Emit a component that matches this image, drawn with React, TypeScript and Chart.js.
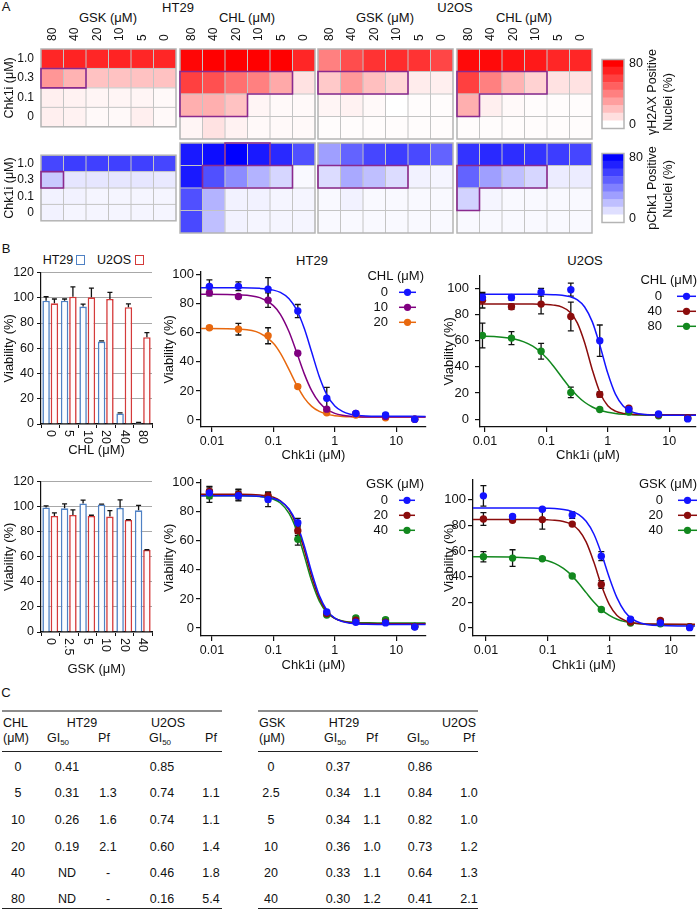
import React, { useEffect, useRef } from 'react';
import { Chart, registerables } from 'chart.js';

Chart.register(...registerables);

const FONT = '"Liberation Sans", Arial, Helvetica, sans-serif';
Chart.defaults.font.family = FONT;
Chart.defaults.color = '#000';

// ---------------- Panel A : heatmaps ----------------
const heatCols = ['80', '40', '20', '10', '5', '0'];
const heatRows = ['1.0', '0.3', '0.1', '0'];

// values in % positive nuclei, rows top->bottom (Chk1i 1.0, 0.3, 0.1, 0), cols 80..0
const ht29GskH2ax = [
  [68, 69, 68, 69, 68, 68],
  [33, 24, 19, 19, 19, 19],
  [5, 4, 3, 3, 3, 2],
  [5, 4, 2, 2, 5, 2],
];
const ht29ChlH2ax = [
  [78, 80, 80, 80, 80, 68],
  [60, 55, 45, 40, 27, 9],
  [25, 25, 19, 3, 2, 2],
  [3, 9, 4, 2, 2, 2],
];
const u2osGskH2ax = [
  [40, 56, 64, 66, 64, 58],
  [17, 32, 20, 13, 6, 5],
  [3, 4, 2, 0, 1, 1],
  [1, 1, 1, 1, 1, 1],
];
const u2osChlH2ax = [
  [77, 77, 74, 72, 68, 68],
  [60, 40, 24, 14, 9, 9],
  [25, 5, 2, 1, 1, 1],
  [1, 1, 1, 1, 1, 1],
];
const ht29GskPchk1 = [
  [58, 61, 60, 60, 60, 58],
  [17, 8, 8, 8, 8, 7],
  [4, 4, 3, 3, 3, 3],
  [4, 3, 3, 3, 3, 3],
];
const ht29ChlPchk1 = [
  [72, 76, 80, 72, 67, 55],
  [72, 55, 36, 24, 13, 2],
  [55, 24, 4, 4, 3, 3],
  [57, 20, 4, 3, 3, 3],
];
const u2osGskPchk1 = [
  [30, 49, 58, 61, 57, 49],
  [11, 27, 20, 11, 4, 3],
  [2, 4, 2, 2, 2, 2],
  [2, 2, 2, 2, 2, 2],
];
const u2osChlPchk1 = [
  [64, 67, 66, 64, 61, 58],
  [49, 30, 20, 13, 6, 6],
  [14, 3, 2, 2, 2, 2],
  [2, 2, 2, 2, 2, 2],
];

// significance outlines (region id per cell, 0 = none)
const ht29GskH2axSig = [[0,0,0,0,0,0],[1,1,0,0,0,0],[0,0,0,0,0,0],[0,0,0,0,0,0]];
const ht29ChlH2axSig = [[0,0,0,0,0,0],[1,1,1,1,1,0],[1,1,1,0,0,0],[0,0,0,0,0,0]];
const u2osGskH2axSig = [[0,0,0,0,0,0],[1,1,1,1,0,0],[0,0,0,0,0,0],[0,0,0,0,0,0]];
const u2osChlH2axSig = [[0,0,0,0,0,0],[1,1,1,1,0,0],[1,0,0,0,0,0],[0,0,0,0,0,0]];
const ht29GskPchk1Sig = [[0,0,0,0,0,0],[1,0,0,0,0,0],[0,0,0,0,0,0],[0,0,0,0,0,0]];
const ht29ChlPchk1Sig = [[0,0,2,2,0,0],[0,1,1,1,1,0],[0,0,0,0,0,0],[0,0,0,0,0,0]];
const u2osGskPchk1Sig = [[0,0,0,0,0,0],[1,1,1,1,0,0],[0,0,0,0,0,0],[0,0,0,0,0,0]];
const u2osChlPchk1Sig = [[0,0,0,0,0,0],[1,1,1,1,0,0],[1,0,0,0,0,0],[0,0,0,0,0,0]];

const colorbarSteps = [0, 10, 20, 30, 40, 50, 60, 70, 80];
const colorbarTicks = [0, 80];

// ---------------- Panel B : bars ----------------
const chlLabels = ['0', '5', '10', '20', '40', '80'];
const chlHt29 = [97.7, 97.7, 93, 65.3, 8.3, 1];
const chlHt29Err = [3.1, 1.3, 2, 0.5, 0.5, 0.3];
const chlU2os = [95.6, 100.8, 100.3, 99, 92.5, 68.7];
const chlU2osErr = [3.4, 7.8, 7.3, 5.2, 2.6, 3.6];

const gskLabels = ['0', '2.5', '5', '10', '20', '40'];
const gskHt29 = [99.3, 98.6, 102.5, 101.7, 99, 97];
const gskHt29Err = [1.3, 3.5, 2.6, 0.3, 6.3, 4];
const gskU2os = [92.5, 93.3, 92.5, 92, 89.4, 65.4];
const gskU2osErr = [2.5, 4, 0.6, 4.8, 0.2, 0.2];

const barTicks = [0, 20, 40, 60, 80, 100, 120];

// ---------------- Panel B : dose response ----------------
const chk1iConc = [0.0091, 0.027, 0.082, 0.25, 0.74, 2.2, 6.7, 20];
const fitConc = [0.006, 0.03, 0.06, 0.1, 0.13, 0.18, 0.24, 0.32, 0.42, 0.56, 0.75, 1, 1.33, 1.78, 2.4, 3.2, 5, 30];
const chk1iTicks = [0.01, 0.1, 1, 10];
const viabTicks = [0, 20, 40, 60, 80, 100];

const ht29Chl0 = [92, 92, 90, 75, 15, 4.5, 3.5, 0.5];
const ht29Chl0Err = [4.5, 3, 8, 4.5, 7.5, 1, 1, 0];
const ht29Chl0Fit = [91, 91, 90.6, 89.4, 87.8, 83.5, 75.7, 62.8, 46.8, 29.8, 17.0, 9.7, 5.9, 4.0, 3.2, 2.8, 2.6, 2.5];
const ht29Chl10 = [87.5, 85, 82.5, 46, 7.5, 4.5, 2.5, 0.5];
const ht29Chl10Err = [2, 1, 5, 1, 1, 1, 1, 0];
const ht29Chl10Fit = [86.5, 86.1, 84.2, 78.7, 72.7, 60.7, 46.4, 31.6, 20.2, 12.0, 7.1, 4.6, 3.3, 2.6, 2.3, 2.1, 2.0, 2.0];
const ht29Chl20 = [63.5, 62.5, 58, 23, 5, 3.5, 1.5, 0.5];
const ht29Chl20Err = [1, 4, 5.5, 1, 1, 1, 1, 0];
const ht29Chl20Fit = [63, 62.4, 59.8, 52.8, 46.0, 34.7, 24.0, 15.1, 9.4, 5.9, 3.9, 3.0, 2.5, 2.2, 2.1, 2.0, 2.0, 2.0];

const u2osChl0 = [93, 93, 97, 99, 60, 7.5, 4, 0.3];
const u2osChl0Err = [3, 2, 3, 5, 12, 1, 1, 0];
const u2osChl0Fit = [95.5, 95.5, 95.5, 95.4, 95.2, 94.8, 93.7, 91.2, 85.8, 74.4, 55.8, 35.1, 19.2, 10.2, 5.9, 4.2, 3.3, 3.0];
const u2osChl40 = [91, 86, 88, 78.5, 19, 8.5, 3.5, 1];
const u2osChl40Err = [6, 2, 7.5, 11, 2, 1, 0.5, 0];
const u2osChl40Fit = [88, 88, 88, 87.7, 87.2, 85.7, 82.0, 73.5, 58.5, 37.7, 20.1, 10.4, 6.2, 4.5, 3.9, 3.6, 3.5, 3.5];
const u2osChl80 = [64, 62, 52, 20.5, 7.5, 5.5, 2.7, 0.7];
const u2osChl80Err = [9.5, 5, 6, 4, 1, 1, 0.5, 0];
const u2osChl80Fit = [63.8, 61.4, 55.8, 47.0, 40.7, 31.9, 24.3, 17.8, 13.0, 9.4, 6.9, 5.4, 4.5, 3.9, 3.5, 3.3, 3.1, 3.0];

const ht29Gsk0 = [93, 91, 88.5, 72.5, 11, 4, 3.5, 0.7];
const ht29Gsk0Err = [4, 3, 5, 3, 1, 1, 1, 0];
const ht29Gsk0Fit = [91, 91, 90.6, 89.2, 87.3, 81.9, 72.0, 56.3, 38.4, 22.3, 12.0, 6.8, 4.4, 3.3, 2.8, 2.6, 2.5, 2.5];
const ht29Gsk20 = [94, 92, 91, 67, 10, 5.3, 4, 1];
const ht29Gsk20Err = [3.5, 3, 2.5, 3.5, 1, 1, 1, 0];
const ht29Gsk20Fit = [92, 92, 91.5, 90.0, 87.6, 81.3, 70.3, 53.5, 35.6, 20.4, 11.3, 6.6, 4.6, 3.7, 3.3, 3.1, 3.0, 3.0];
const ht29Gsk40 = [91, 91.5, 90, 61, 9, 7, 5.7, 1];
const ht29Gsk40Err = [4.5, 4, 3, 4, 1, 1, 1, 0];
const ht29Gsk40Fit = [91, 91, 90.5, 88.6, 86.0, 78.9, 67.0, 49.5, 32.3, 18.5, 10.4, 6.6, 4.8, 4.1, 3.7, 3.6, 3.5, 3.5];

const u2osGsk0 = [103, 87, 92.5, 88, 56, 6.8, 4, 0.3];
const u2osGsk0Err = [8, 1, 1, 2.5, 3.5, 1, 1, 0];
const u2osGsk0Fit = [93.5, 93.5, 93.5, 93.3, 93.1, 92.4, 91.1, 88.4, 83.2, 73.3, 57.5, 39.2, 23.5, 12.7, 6.7, 3.9, 2.2, 1.5];
const u2osGsk20 = [85, 84, 84.5, 81, 34, 4.7, 6, 1];
const u2osGsk20Err = [5, 1, 7.5, 1, 3, 1, 1, 0];
const u2osGsk20Fit = [84.5, 84.5, 84.5, 84.3, 84.0, 83.0, 81.0, 76.2, 67.1, 51.4, 32.7, 18.2, 9.8, 5.9, 4.1, 3.4, 3.1, 3.0];
const u2osGsk40 = [55.5, 54.5, 54, 40.5, 14.5, 3.9, 3.4, 1];
const u2osGsk40Err = [4, 6.5, 1, 1, 1, 1, 1, 0];
const u2osGsk40Fit = [55.5, 55.2, 54.3, 52.4, 50.4, 46.5, 41.4, 34.7, 27.6, 20.3, 14.2, 9.8, 6.8, 5.0, 3.9, 3.3, 2.8, 2.5];

// ---------------- Panel C : table ----------------
const chlConc = ['0', '5', '10', '20', '40', '80'];
const chlHt29Gi50 = ['0.41', '0.31', '0.26', '0.19', 'ND', 'ND'];
const chlHt29Pf = ['', '1.3', '1.6', '2.1', '-', '-'];
const chlU2osGi50 = ['0.85', '0.74', '0.74', '0.60', '0.46', '0.16'];
const chlU2osPf = ['', '1.1', '1.1', '1.4', '1.8', '5.4'];
const gskConc = ['0', '2.5', '5', '10', '20', '40'];
const gskHt29Gi50 = ['0.37', '0.34', '0.34', '0.36', '0.33', '0.30'];
const gskHt29Pf = ['', '1.1', '1.1', '1.0', '1.1', '1.2'];
const gskU2osGi50 = ['0.86', '0.84', '0.82', '0.73', '0.64', '0.41'];
const gskU2osPf = ['', '1.0', '1.0', '1.2', '1.3', '2.1'];

// ---------------- helpers ----------------
const clamp80 = (v: number) => Math.min(Math.max(v, 0), 80) / 80;
const redOf = (v: number) => {
  const c = Math.round(255 * (1 - clamp80(v)));
  return `rgb(255,${c},${c})`;
};
const blueOf = (v: number) => {
  const c = Math.round(255 * (1 - clamp80(v)));
  return `rgb(${c},${c},255)`;
};

const BLUE = '#1414ff';
const PURPLE = '#800080';
const ORANGE = '#e8680e';
const DARKRED = '#8b0c0c';
const GREEN = '#12881e';

const heatPlugin = {
  id: 'heat',
  afterDatasetsDraw(chart: any, _a: any, o: any) {
    const { ctx } = chart;
    const xs = chart.scales.x;
    const ys = chart.scales.y;
    const sig: number[][] = o.sig;
    const nR = sig.length;
    const nC = sig[0].length;
    const cw = xs.getPixelForValue(1) - xs.getPixelForValue(0);
    const cx = (j: number) => xs.getPixelForValue(0) - cw / 2 + j * cw;
    const ry = (r: number) => ys.getPixelForValue(nR - r);
    ctx.save();
    ctx.strokeStyle = '#c4c4c4';
    ctx.lineWidth = 1;
    ctx.beginPath();
    for (let j = 1; j < nC; j++) {
      ctx.moveTo(cx(j), ry(0));
      ctx.lineTo(cx(j), ry(nR));
    }
    for (let r = 1; r < nR; r++) {
      ctx.moveTo(cx(0), ry(r));
      ctx.lineTo(cx(nC), ry(r));
    }
    ctx.stroke();
    ctx.strokeStyle = '#b4b4b4';
    ctx.lineWidth = 1.5;
    ctx.strokeRect(cx(0), ry(0), cx(nC) - cx(0), ry(nR) - ry(0));
    // outlines
    ctx.strokeStyle = '#8a2a8e';
    ctx.lineWidth = 1.6;
    ctx.lineCap = 'square';
    ctx.beginPath();
    const at = (r: number, c: number) => (r < 0 || r >= nR || c < 0 || c >= nC ? 0 : sig[r][c]);
    for (let r = 0; r < nR; r++) {
      for (let c = 0; c < nC; c++) {
        const id = sig[r][c];
        if (!id) continue;
        if (at(r - 1, c) !== id) { ctx.moveTo(cx(c), ry(r)); ctx.lineTo(cx(c + 1), ry(r)); }
        if (at(r + 1, c) !== id) { ctx.moveTo(cx(c), ry(r + 1)); ctx.lineTo(cx(c + 1), ry(r + 1)); }
        if (at(r, c - 1) !== id) { ctx.moveTo(cx(c), ry(r)); ctx.lineTo(cx(c), ry(r + 1)); }
        if (at(r, c + 1) !== id) { ctx.moveTo(cx(c + 1), ry(r)); ctx.lineTo(cx(c + 1), ry(r + 1)); }
      }
    }
    ctx.stroke();
    if (o.header) {
      ctx.fillStyle = '#111';
      ctx.font = `12px ${FONT}`;
      ctx.textAlign = 'left';
      ctx.textBaseline = 'middle';
      chart.data.labels.forEach((lab: string, j: number) => {
        ctx.save();
        ctx.translate(xs.getPixelForValue(j), chart.chartArea.top - 8);
        ctx.rotate(-Math.PI / 2);
        ctx.fillText(lab, 0, 0);
        ctx.restore();
      });
    }
    ctx.restore();
  },
};

const framePlugin = {
  id: 'frame',
  afterDatasetsDraw(chart: any) {
    const { ctx, chartArea: a } = chart;
    ctx.save();
    ctx.strokeStyle = '#b4b4b4';
    ctx.lineWidth = 1.5;
    ctx.strokeRect(a.left, a.top, a.right - a.left, a.bottom - a.top);
    ctx.restore();
  },
};

function drawErrors(chart: any) {
  const { ctx } = chart;
  const ys = chart.scales.y;
  ctx.save();
  ctx.strokeStyle = '#111';
  ctx.lineWidth = 1.3;
  chart.data.datasets.forEach((ds: any, i: number) => {
    if (!ds.errors) return;
    const meta = chart.getDatasetMeta(i);
    meta.data.forEach((el: any, j: number) => {
      const e = ds.errors[j];
      if (!e) return;
      const raw = ds.data[j];
      const v = typeof raw === 'number' ? raw : raw.y;
      const y1 = ys.getPixelForValue(v + e);
      const y2 = ds.errUpOnly ? ys.getPixelForValue(v) : ys.getPixelForValue(v - e);
      const cap = ds.errCap || 3;
      ctx.beginPath();
      ctx.moveTo(el.x, y1);
      ctx.lineTo(el.x, y2);
      ctx.moveTo(el.x - cap, y1);
      ctx.lineTo(el.x + cap, y1);
      if (!ds.errUpOnly) {
        ctx.moveTo(el.x - cap, y2);
        ctx.lineTo(el.x + cap, y2);
      }
      ctx.stroke();
    });
  });
  ctx.restore();
}

const errorPlugin = {
  id: 'errbars',
  beforeDatasetsDraw(chart: any) {
    drawErrors(chart);
  },
};

const barErrorPlugin = {
  id: 'barerr',
  afterDatasetsDraw(chart: any) {
    drawErrors(chart);
  },
};

const rotLabelsPlugin = {
  id: 'rotlabels',
  afterDraw(chart: any) {
    const { ctx, chartArea: a } = chart;
    const xs = chart.scales.x;
    ctx.save();
    ctx.fillStyle = '#111';
    ctx.font = `12.5px ${FONT}`;
    ctx.textAlign = 'left';
    ctx.textBaseline = 'middle';
    chart.data.labels.forEach((lab: string, j: number) => {
      ctx.save();
      ctx.translate(xs.getPixelForValue(j), a.bottom + 6);
      ctx.rotate(Math.PI / 2);
      ctx.fillText(lab, 0, 0);
      ctx.restore();
    });
    ctx.restore();
  },
};

const doseLegendPlugin = {
  id: 'doseLegend',
  afterDraw(chart: any, _a: any, o: any) {
    if (!o || !o.items) return;
    const { ctx, chartArea: a } = chart;
    ctx.save();
    ctx.font = `13px ${FONT}`;
    ctx.fillStyle = '#111';
    ctx.textAlign = 'right';
    ctx.textBaseline = 'middle';
    ctx.fillText(o.title, a.right + o.titleDx, a.top + 5);
    o.items.forEach((it: any, i: number) => {
      const y = a.top + 20.5 + 15 * i;
      ctx.fillStyle = '#111';
      ctx.fillText(it.label, a.right + o.labelDx, y);
      ctx.strokeStyle = it.color;
      ctx.lineWidth = 1.5;
      ctx.beginPath();
      ctx.moveTo(a.right + o.s0, y);
      ctx.lineTo(a.right + o.s1, y);
      ctx.stroke();
      ctx.fillStyle = it.color;
      ctx.beginPath();
      ctx.arc(a.right + (o.s0 + o.s1) / 2, y, 3.6, 0, Math.PI * 2);
      ctx.fill();
    });
    ctx.restore();
  },
};

// ---------------- chart configs ----------------
function heatConfig(values: number[][], sig: number[][], kind: string, withY: boolean, header: boolean, padTop: number) {
  const colorOf = kind === 'red' ? redOf : blueOf;
  const nR = values.length;
  const datasets: any[] = [];
  for (let r = nR - 1; r >= 0; r--) {
    datasets.push({
      data: heatCols.map(() => 1),
      backgroundColor: values[r].map(colorOf),
      borderWidth: 0,
      barPercentage: 1,
      categoryPercentage: 1,
    });
  }
  const yScale: any = {
    type: 'linear',
    stacked: true,
    min: 0,
    max: nR,
    display: withY,
  };
  if (withY) {
    Object.assign(yScale, {
      afterFit: (s: any) => { s.width = 41; },
      afterBuildTicks: (s: any) => { s.ticks = heatRows.map((_, i) => ({ value: nR - 0.5 - i })); },
      ticks: {
        callback: (v: number) => heatRows[Math.round(nR - 0.5 - v)],
        font: { size: 12 },
        color: '#111',
        padding: 7,
        autoSkip: false,
      },
      grid: { display: false, drawTicks: false },
      border: { display: false },
      title: { display: true, text: 'Chk1i (μM)', font: { size: 12.5 }, color: '#111', padding: { top: 2, bottom: 0 } },
    });
  }
  return {
    type: 'bar',
    data: { labels: heatCols, datasets },
    options: {
      responsive: false,
      animation: false,
      events: [],
      layout: { padding: { top: padTop, right: 2, bottom: 2, left: withY ? 0 : 2 } },
      plugins: { legend: { display: false }, tooltip: { enabled: false }, heat: { sig, header } },
      scales: {
        x: { type: 'category', display: false, stacked: true, offset: true },
        y: yScale,
      },
    },
    plugins: [heatPlugin],
  };
}

function colorbarConfig(kind: string) {
  const colorOf = kind === 'red' ? redOf : blueOf;
  return {
    type: 'bar',
    data: {
      labels: [''],
      datasets: colorbarSteps.map((v) => ({
        data: [[v - 5, v + 5]],
        backgroundColor: colorOf(v),
        borderWidth: 0,
        barPercentage: 1,
        categoryPercentage: 1,
        grouped: false,
      })),
    },
    options: {
      responsive: false,
      animation: false,
      events: [],
      layout: { padding: { top: 2, right: 0, bottom: 2, left: 2 } },
      plugins: { legend: { display: false }, tooltip: { enabled: false } },
      scales: {
        x: { type: 'category', display: false, offset: true },
        y: {
          position: 'right',
          min: -5,
          max: 85,
          afterFit: (s: any) => { s.width = 26; },
          afterBuildTicks: (s: any) => { s.ticks = colorbarTicks.map((v) => ({ value: v })); },
          ticks: { font: { size: 12.5 }, color: '#111', padding: 5 },
          grid: { display: false, drawTicks: false },
          border: { display: false },
        },
      },
    },
    plugins: [framePlugin],
  };
}

function barConfig(labels: string[], a: number[], aErr: number[], b: number[], bErr: number[], title: string, padTop: number, xH: number) {
  return {
    type: 'bar',
    data: {
      labels,
      datasets: [
        { label: 'HT29', data: a, errors: aErr, errUpOnly: true, errCap: 2.5, borderColor: '#4f81c4', backgroundColor: '#fbfdff', borderWidth: 1.6, categoryPercentage: 0.9, barPercentage: 0.9 },
        { label: 'U2OS', data: b, errors: bErr, errUpOnly: true, errCap: 2.5, borderColor: '#d43a3a', backgroundColor: '#fffbfb', borderWidth: 1.6, categoryPercentage: 0.9, barPercentage: 0.9 },
      ],
    },
    options: {
      responsive: false,
      animation: false,
      events: [],
      layout: { padding: { top: padTop, right: 8, bottom: 0, left: 0 } },
      plugins: { legend: { display: false }, tooltip: { enabled: false } },
      scales: {
        x: {
          type: 'category',
          offset: true,
          afterFit: (s: any) => { s.height = xH; },
          ticks: { display: false },
          grid: { offset: true, drawOnChartArea: false, tickLength: 4, color: '#111' },
          border: { color: '#111', width: 1.2 },
          title: { display: true, text: title, font: { size: 13 }, color: '#111', padding: { top: 0, bottom: 0 } },
        },
        y: {
          min: 0,
          max: 120,
          afterFit: (s: any) => { s.width = 41; },
          afterBuildTicks: (s: any) => { s.ticks = barTicks.map((v) => ({ value: v })); },
          ticks: { font: { size: 12.5 }, color: '#111', padding: 3 },
          grid: { color: '#a8a8a8', tickColor: '#111', tickLength: 4, lineWidth: 1 },
          border: { color: '#111', width: 1.2 },
          title: { display: true, text: 'Viability (%)', font: { size: 13 }, color: '#111', padding: { top: 2, bottom: 0 } },
        },
      },
    },
    plugins: [rotLabelsPlugin, barErrorPlugin],
  };
}

function doseConfig(g: any) {
  const datasets: any[] = [];
  g.series.forEach((s: any) => {
    datasets.push({
      label: s.label,
      data: chk1iConc.map((x, i) => ({ x, y: s.y[i] })),
      errors: s.err,
      errCap: 3,
      showLine: false,
      pointRadius: 3.7,
      pointBackgroundColor: s.color,
      pointBorderColor: s.color,
      pointBorderWidth: 0,
      order: 0,
    });
  });
  g.series.forEach((s: any) => {
    datasets.push({
      data: fitConc.map((x, i) => ({ x, y: s.fit[i] })),
      showLine: true,
      borderColor: s.color,
      borderWidth: 1.5,
      pointRadius: 0,
      cubicInterpolationMode: 'monotone',
      order: 1,
    });
  });
  return {
    type: 'scatter',
    data: { datasets },
    options: {
      responsive: false,
      animation: false,
      events: [],
      layout: { padding: { top: g.padTop, right: g.padRight, bottom: 0, left: 0 } },
      plugins: {
        legend: { display: false },
        tooltip: { enabled: false },
        doseLegend: {
          title: g.legendTitle,
          items: g.series.map((s: any) => ({ label: s.label, color: s.color })),
          ...g.leg,
        },
      },
      scales: {
        x: {
          type: 'logarithmic',
          min: g.xMin,
          max: g.xMax,
          afterFit: (s: any) => { s.height = g.xH; },
          afterBuildTicks: (s: any) => { s.ticks = chk1iTicks.map((v) => ({ value: v })); },
          ticks: { callback: (v: number) => String(v), font: { size: 12.5 }, color: '#111', padding: 2, autoSkip: false, maxRotation: 0 },
          grid: { drawOnChartArea: false, tickLength: 5, color: '#111', lineWidth: 1.2 },
          border: { color: '#111', width: 1.3 },
          title: { display: true, text: 'Chk1i (μM)', font: { size: 13 }, color: '#111', padding: { top: 0, bottom: 0 } },
        },
        y: {
          min: g.yMin,
          max: g.yMax,
          afterFit: (s: any) => { s.width = g.yW; },
          afterBuildTicks: (s: any) => { s.ticks = viabTicks.map((v) => ({ value: v })); },
          ticks: { font: { size: 13 }, color: '#111', padding: g.yPad },
          grid: { drawOnChartArea: false, tickLength: 5, color: '#111', lineWidth: 1.2 },
          border: { color: '#111', width: 1.3 },
          title: { display: true, text: 'Viability (%)', font: { size: 13 }, color: '#111', padding: { top: 2, bottom: 0 } },
        },
      },
    },
    plugins: [errorPlugin, doseLegendPlugin],
  };
}

// ---------------- components ----------------
function ChartBox({ l, t, w, h, make }: any) {
  const ref = useRef<HTMLCanvasElement>(null);
  useEffect(() => {
    const chart = new Chart(ref.current as HTMLCanvasElement, make());
    return () => chart.destroy();
  }, []);
  return (
    <canvas
      ref={ref}
      width={w}
      height={h}
      style={{ position: 'absolute', left: l, top: t, width: w, height: h }}
    />
  );
}

function Txt({ x, y, children, size = 13, rot = 0, left = false, color = '#111' }: any) {
  return (
    <div
      style={{
        position: 'absolute',
        left: x,
        top: y,
        transform: `translate(${left ? '0' : '-50%'},-50%) rotate(${rot}deg)`,
        fontSize: size,
        lineHeight: 1.15,
        whiteSpace: 'nowrap',
        fontFamily: FONT,
        color,
      }}
    >
      {children}
    </div>
  );
}

const Gi = () => (
  <span>
    GI<span style={{ fontSize: 8, position: 'relative', top: 3 }}>50</span>
  </span>
);

function GiTable({ x0, x1, agent, conc, hGi, hPf, uGi, uPf, cols, head }: any) {
  const rowsY = [767, 793, 820, 847, 873, 899];
  return (
    <>
      <div style={{ position: 'absolute', left: x0, top: 710, width: x1 - x0, height: 2, background: '#8c8c8c' }} />
      <div style={{ position: 'absolute', left: x0, top: 751, width: x1 - x0, height: 1, background: '#222' }} />
      <div style={{ position: 'absolute', left: x0, top: 908, width: x1 - x0, height: 1.3, background: '#222' }} />
      <Txt x={x0 + 1} y={723} size={12.5} left>{agent}</Txt>
      <Txt x={x0 + 1} y={738} size={12.5} left>(μM)</Txt>
      <Txt x={head.ht29} y={723} size={12.5}>HT29</Txt>
      <Txt x={head.u2os} y={723} size={12.5}>U2OS</Txt>
      <Txt x={head.gi[0]} y={738} size={12.5}><Gi /></Txt>
      <Txt x={head.pf[0]} y={738} size={12.5}>Pf</Txt>
      <Txt x={head.gi[1]} y={738} size={12.5}><Gi /></Txt>
      <Txt x={head.pf[1]} y={738} size={12.5}>Pf</Txt>
      {conc.map((c: string, i: number) => (
        <React.Fragment key={i}>
          <Txt x={cols[0]} y={rowsY[i]} size={12.5}>{c}</Txt>
          <Txt x={cols[1]} y={rowsY[i]} size={12.5}>{hGi[i]}</Txt>
          <Txt x={cols[2]} y={rowsY[i]} size={12.5}>{hPf[i]}</Txt>
          <Txt x={cols[3]} y={rowsY[i]} size={12.5}>{uGi[i]}</Txt>
          <Txt x={cols[4]} y={rowsY[i]} size={12.5}>{uPf[i]}</Txt>
        </React.Fragment>
      ))}
    </>
  );
}

export default function App() {
  const redTop = 26;
  const redH = 115;
  const blueTop = 141;
  const blueH = 94;
  return (
    <div style={{ position: 'absolute', left: 0, top: 0, width: 700, height: 912, background: '#fff', fontFamily: FONT, overflow: 'hidden' }}>
      {/* Panel A */}
      <Txt x={6} y={7}>A</Txt>
      <Txt x={178} y={8}>HT29</Txt>
      <Txt x={455} y={8}>U2OS</Txt>
      <Txt x={108} y={18}>GSK (μM)</Txt>
      <Txt x={247} y={18}>CHL (μM)</Txt>
      <Txt x={385} y={18}>GSK (μM)</Txt>
      <Txt x={524} y={18}>CHL (μM)</Txt>

      <ChartBox l={0} t={redTop} w={178} h={redH} make={() => heatConfig(ht29GskH2ax, ht29GskH2axSig, 'red', true, true, 23)} />
      <ChartBox l={178} t={redTop} w={139} h={redH} make={() => heatConfig(ht29ChlH2ax, ht29ChlH2axSig, 'red', false, true, 23)} />
      <ChartBox l={316} t={redTop} w={139} h={redH} make={() => heatConfig(u2osGskH2ax, u2osGskH2axSig, 'red', false, true, 23)} />
      <ChartBox l={455} t={redTop} w={139} h={redH} make={() => heatConfig(u2osChlH2ax, u2osChlH2axSig, 'red', false, true, 23)} />
      <ChartBox l={0} t={blueTop} w={178} h={blueH} make={() => heatConfig(ht29GskPchk1, ht29GskPchk1Sig, 'blue', true, false, 2)} />
      <ChartBox l={178} t={blueTop} w={139} h={blueH} make={() => heatConfig(ht29ChlPchk1, ht29ChlPchk1Sig, 'blue', false, false, 2)} />
      <ChartBox l={316} t={blueTop} w={139} h={blueH} make={() => heatConfig(u2osGskPchk1, u2osGskPchk1Sig, 'blue', false, false, 2)} />
      <ChartBox l={455} t={blueTop} w={139} h={blueH} make={() => heatConfig(u2osChlPchk1, u2osChlPchk1Sig, 'blue', false, false, 2)} />

      <ChartBox l={600} t={47} w={50} h={94} make={() => colorbarConfig('red')} />
      <ChartBox l={600} t={141} w={50} h={94} make={() => colorbarConfig('blue')} />
      <Txt x={652} y={92} size={12.5} rot={-90}>γH2AX Positive</Txt>
      <Txt x={668} y={102} size={12.5} rot={-90}>Nuclei (%)</Txt>
      <Txt x={652} y={188} size={12.5} rot={-90}>pChk1 Positive</Txt>
      <Txt x={668} y={189} size={12.5} rot={-90}>Nuclei (%)</Txt>

      {/* Panel B */}
      <Txt x={6} y={249}>B</Txt>
      <Txt x={58} y={260} size={12.5}>HT29</Txt>
      <div style={{ position: 'absolute', left: 76, top: 255, width: 7, height: 8, border: '1.5px solid #4f81c4' }} />
      <Txt x={114} y={260} size={12.5}>U2OS</Txt>
      <div style={{ position: 'absolute', left: 135, top: 255, width: 7, height: 8, border: '1.5px solid #d43a3a' }} />

      <ChartBox l={0} t={262} w={160} h={196} make={() => barConfig(chlLabels, chlHt29, chlHt29Err, chlU2os, chlU2osErr, 'CHL (μM)', 8, 34)} />
      <ChartBox l={0} t={471} w={160} h={206} make={() => barConfig(gskLabels, gskHt29, gskHt29Err, gskU2os, gskU2osErr, 'GSK (μM)', 8, 45)} />

      <Txt x={312} y={261}>HT29</Txt>
      <Txt x={585} y={261}>U2OS</Txt>

      <ChartBox l={160} t={262} w={270} h={201} make={() => doseConfig({
        series: [
          { label: '0', color: BLUE, y: ht29Chl0, err: ht29Chl0Err, fit: ht29Chl0Fit },
          { label: '10', color: PURPLE, y: ht29Chl10, err: ht29Chl10Err, fit: ht29Chl10Fit },
          { label: '20', color: ORANGE, y: ht29Chl20, err: ht29Chl20Err, fit: ht29Chl20Fit },
        ],
        legendTitle: 'CHL (μM)',
        leg: { titleDx: -2, labelDx: -38, s0: -27, s1: -10 },
        xMin: 0.00664, xMax: 30.5, yMin: -4.8, yMax: 102,
        yW: 41, xH: 36, padTop: 9, padRight: 3, yPad: 2,
      })} />
      <ChartBox l={440} t={262} w={260} h={201} make={() => doseConfig({
        series: [
          { label: '0', color: BLUE, y: u2osChl0, err: u2osChl0Err, fit: u2osChl0Fit },
          { label: '40', color: DARKRED, y: u2osChl40, err: u2osChl40Err, fit: u2osChl40Fit },
          { label: '80', color: GREEN, y: u2osChl80, err: u2osChl80Err, fit: u2osChl80Fit },
        ],
        legendTitle: 'CHL (μM)',
        leg: { titleDx: 1, labelDx: -34, s0: -19, s1: 0 },
        xMin: 0.0083, xMax: 27.3, yMin: -5.9, yMax: 109.6,
        yW: 40, xH: 36, padTop: 9, padRight: 3, yPad: 6,
      })} />
      <ChartBox l={160} t={470} w={270} h={203} make={() => doseConfig({
        series: [
          { label: '0', color: BLUE, y: ht29Gsk0, err: ht29Gsk0Err, fit: ht29Gsk0Fit },
          { label: '20', color: DARKRED, y: ht29Gsk20, err: ht29Gsk20Err, fit: ht29Gsk20Fit },
          { label: '40', color: GREEN, y: ht29Gsk40, err: ht29Gsk40Err, fit: ht29Gsk40Fit },
        ],
        legendTitle: 'GSK (μM)',
        leg: { titleDx: -2, labelDx: -38, s0: -27, s1: -11 },
        xMin: 0.00664, xMax: 30.5, yMin: -5.5, yMax: 102,
        yW: 41, xH: 37, padTop: 9, padRight: 3, yPad: 2,
      })} />
      <ChartBox l={440} t={470} w={260} h={203} make={() => doseConfig({
        series: [
          { label: '0', color: BLUE, y: u2osGsk0, err: u2osGsk0Err, fit: u2osGsk0Fit },
          { label: '20', color: DARKRED, y: u2osGsk20, err: u2osGsk20Err, fit: u2osGsk20Fit },
          { label: '40', color: GREEN, y: u2osGsk40, err: u2osGsk40Err, fit: u2osGsk40Fit },
        ],
        legendTitle: 'GSK (μM)',
        leg: { titleDx: 2, labelDx: -32, s0: -17, s1: 2 },
        xMin: 0.00617, xMax: 24.4, yMin: -6.2, yMax: 115.5,
        yW: 33, xH: 37, padTop: 9, padRight: 5, yPad: 2,
      })} />

      {/* Panel C */}
      <Txt x={6} y={693}>C</Txt>
      <GiTable
        x0={2} x1={222} agent="CHL" conc={chlConc}
        hGi={chlHt29Gi50} hPf={chlHt29Pf} uGi={chlU2osGi50} uPf={chlU2osPf}
        cols={[18, 67, 108, 162, 211]}
        head={{ ht29: 82, u2os: 168, gi: [58, 160], pf: [104, 211] }}
      />
      <GiTable
        x0={258} x1={478} agent="GSK" conc={gskConc}
        hGi={gskHt29Gi50} hPf={gskHt29Pf} uGi={gskU2osGi50} uPf={gskU2osPf}
        cols={[271, 338, 372, 420, 469]}
        head={{ ht29: 344, u2os: 459, gi: [335, 418], pf: [372, 469] }}
      />
    </div>
  );
}
